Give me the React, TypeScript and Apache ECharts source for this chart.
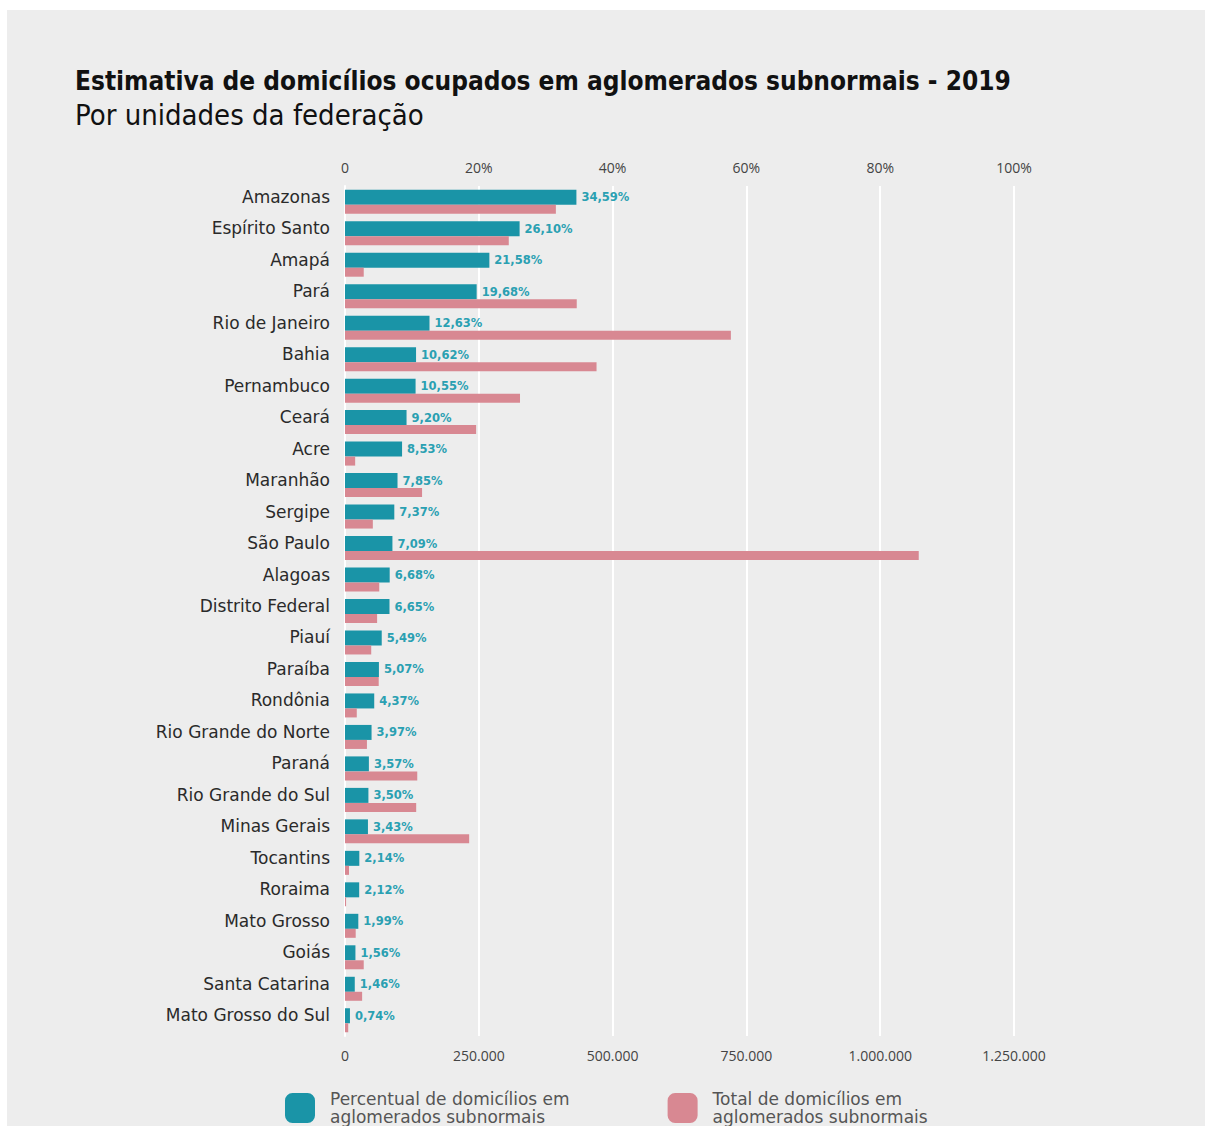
import React, { useEffect, useRef } from "react";
import * as echarts from "echarts";

const states = [
  "Amazonas", "Espírito Santo", "Amapá", "Pará", "Rio de Janeiro", "Bahia", "Pernambuco",
  "Ceará", "Acre", "Maranhão", "Sergipe", "São Paulo", "Alagoas", "Distrito Federal",
  "Piauí", "Paraíba", "Rondônia", "Rio Grande do Norte", "Paraná", "Rio Grande do Sul",
  "Minas Gerais", "Tocantins", "Roraima", "Mato Grosso", "Goiás", "Santa Catarina",
  "Mato Grosso do Sul",
];

const percentValues = [
  34.59, 26.1, 21.58, 19.68, 12.63, 10.62, 10.55, 9.2, 8.53, 7.85, 7.37, 7.09, 6.68, 6.65,
  5.49, 5.07, 4.37, 3.97, 3.57, 3.5, 3.43, 2.14, 2.12, 1.99, 1.56, 1.46, 0.74,
];

const totalValues = [
  394000, 306000, 35000, 433000, 721000, 470000, 327000, 245000, 19000, 144000, 52000,
  1072000, 64000, 60000, 49000, 63000, 22000, 41000, 135000, 133000, 232000, 7500, 2000,
  20000, 35000, 32000, 6000,
];

const seriesNames = [
  "Percentual de domicílios em\naglomerados subnormais",
  "Total de domicílios em\naglomerados subnormais",
];

const titleText = "Estimativa de domicílios ocupados em aglomerados subnormais - 2019";
const subtitleText = "Por unidades da federação";

const CYAN = "#1a94a7";
const PINK = "#d88892";

export default function App() {
  const ref = useRef<HTMLDivElement>(null);
  useEffect(() => {
    if (!ref.current) return;
    const chart = echarts.init(ref.current, undefined, { renderer: "svg" });
    const font = "'DejaVu Sans', sans-serif";
    const axisFont = "'Open Sans', 'DejaVu Sans', sans-serif";
    chart.setOption({
      animation: false,
      backgroundColor: "#ededed",
      title: {
        text: titleText,
        subtext: subtitleText,
        left: 63,
        top: 53,
        itemGap: 6,
        textStyle: {
          fontFamily: "'DejaVu Sans Condensed', 'DejaVu Sans', sans-serif",
          fontWeight: "bold",
          fontSize: 26,
          color: "#111",
        },
        subtextStyle: {
          fontFamily: "'DejaVu Sans Condensed', 'DejaVu Sans', sans-serif",
          fontSize: 29,
          color: "#111",
        },
      },
      legend: {
        bottom: -5,
        left: 273,
        itemWidth: 30,
        itemHeight: 30,
        itemGap: 98,
        icon: "roundRect",
        textStyle: {
          fontFamily: font,
          fontSize: 17,
          color: "#555",
          lineHeight: 18,
          padding: [0, 0, 0, 10],
        },
        data: seriesNames,
      },
      grid: { left: 338, right: 191, top: 176, height: 850 },
      xAxis: [
        {
          type: "value",
          position: "top",
          min: 0,
          max: 100,
          interval: 20,
          axisLine: { show: false },
          axisTick: { show: false },
          splitLine: { show: true, lineStyle: { color: "#ffffff", width: 2 } },
          axisLabel: {
            margin: 12,
            fontFamily: axisFont,
            fontSize: 14,
            color: "#444",
            formatter: (v: number) => (v === 0 ? "0" : v + "%"),
          },
        },
        {
          type: "value",
          position: "bottom",
          min: 0,
          max: 1250000,
          interval: 250000,
          axisLine: { show: false },
          axisTick: { show: false },
          splitLine: { show: false },
          axisLabel: {
            margin: 12,
            fontFamily: axisFont,
            fontSize: 14,
            color: "#444",
            formatter: (v: number) => (v === 0 ? "0" : v.toLocaleString("de-DE")),
          },
        },
      ],
      yAxis: {
        type: "category",
        inverse: true,
        data: states,
        axisLine: { show: true, lineStyle: { color: "#ffffff", width: 2 } },
        axisTick: { show: false },
        axisLabel: {
          margin: 15,
          fontFamily: font,
          fontSize: 17,
          color: "#2a2a2a",
          verticalAlign: "bottom",
          lineHeight: 10,
        },
      },
      series: [
        {
          name: seriesNames[0],
          type: "bar",
          xAxisIndex: 0,
          data: percentValues,
          barWidth: 15,
          barGap: "0%",
          itemStyle: { color: CYAN },
          label: {
            show: true,
            position: "right",
            distance: 5,
            fontFamily: font,
            fontSize: 11.5,
            fontWeight: "bold",
            color: "#2aa0b2",
            formatter: (p: any) => p.value.toFixed(2).replace(".", ",") + "%",
          },
        },
        {
          name: seriesNames[1],
          type: "bar",
          xAxisIndex: 1,
          data: totalValues,
          barWidth: 9,
          barGap: "0%",
          itemStyle: { color: PINK },
        },
      ],
    });
    return () => chart.dispose();
  }, []);
  return (
    <div
      ref={ref}
      style={{ position: "fixed", left: 7, top: 10, width: 1198, height: 1116 }}
    />
  );
}
